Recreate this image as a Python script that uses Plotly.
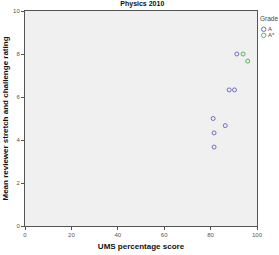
import plotly.graph_objects as go

grade_a_x = [91.3, 88.0, 90.3, 81.1, 86.3, 81.5, 81.5]
grade_a_y = [8.0, 6.33, 6.33, 5.0, 4.67, 4.33, 3.67]
grade_astar_x = [94.0, 96.0]
grade_astar_y = [8.0, 7.67]
legend_labels = ["A", "A*"]
legend_colors = ["#6e6ec4", "#4fb84f"]

fig = go.Figure()
fig.add_trace(go.Scatter(x=grade_a_x, y=grade_a_y, mode="markers", name="A",
                         marker=dict(symbol="circle-open", size=4, color=legend_colors[0], line=dict(width=1))))
fig.add_trace(go.Scatter(x=grade_astar_x, y=grade_astar_y, mode="markers", name="A*",
                         marker=dict(symbol="circle-open", size=4, color=legend_colors[1], line=dict(width=1))))

fig.update_layout(
    width=279, height=255,
    margin=dict(l=25, r=22, t=11, b=29, autoexpand=False),
    paper_bgcolor="white", plot_bgcolor="#f0f0f0",
    font=dict(family="Liberation Sans, Arial", size=6, color="#333"),
    title=dict(text="<b>Physics 2010</b>", x=0.51, xanchor="center", y=0.995, yanchor="top",
               font=dict(size=7, color="#111")),
    showlegend=False,
)

# manual legend
fig.add_annotation(text="Grade", xref="paper", yref="paper", x=1.006, y=0.963, xanchor="left", yanchor="middle",
                   showarrow=False, font=dict(size=6.5, color="#444"))
leg_y = [0.915, 0.887]
for lab, col, yy in zip(legend_labels, legend_colors, leg_y):
    fig.add_shape(type="circle", xref="paper", yref="paper", xsizemode="pixel", ysizemode="pixel",
                  xanchor=1.029, yanchor=yy, x0=-2.2, x1=2.2, y0=-2.2, y1=2.2,
                  line=dict(color=col, width=1), fillcolor="rgba(0,0,0,0)")
    fig.add_annotation(text=lab, xref="paper", yref="paper", x=1.04, y=yy, xanchor="left", yanchor="middle",
                       showarrow=False, font=dict(size=6, color="#444"))

fig.update_xaxes(range=[0, 100], tickvals=[0, 20, 40, 60, 80, 100], showgrid=False, zeroline=False,
                 showline=True, linecolor="#555", linewidth=1, mirror=True, ticks="outside", ticklen=3,
                 tickcolor="#555", tickfont=dict(size=6, color="#555"),
                 title=dict(text="<b>UMS percentage score</b>", font=dict(size=8, color="#111"), standoff=6))
fig.update_yaxes(range=[0, 10], tickvals=[0, 2, 4, 6, 8, 10], showgrid=False, zeroline=False,
                 showline=True, linecolor="#555", linewidth=1, mirror=True, ticks="outside", ticklen=3,
                 tickcolor="#555", tickfont=dict(size=6, color="#555"),
                 title=dict(text="<b>Mean reviewer stretch and challenge rating</b>", font=dict(size=8, color="#111"), standoff=3))

fig.write_html("out.html")
